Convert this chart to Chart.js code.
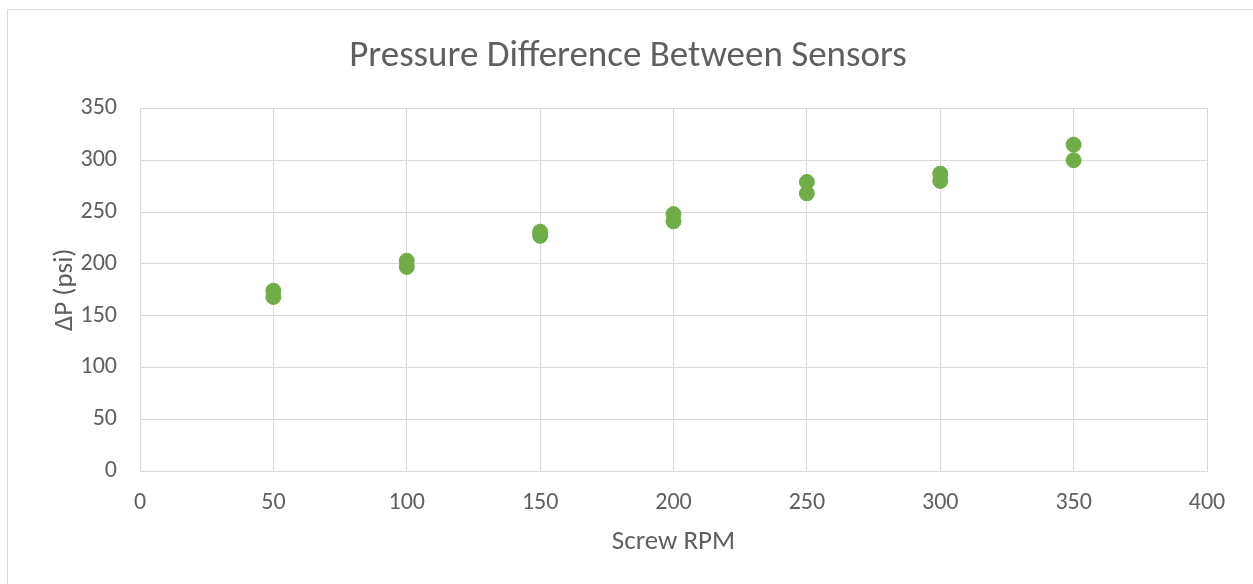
<!DOCTYPE html>
<html>
<head>
<meta charset="utf-8">
<script src="https://cdn.jsdelivr.net/npm/chart.js@4.4.0/dist/chart.umd.min.js"></script>
<style>
  html, body { margin: 0; padding: 0; background: #fff; }
  #wrap { position: relative; width: 1253px; height: 584px; }
  #frame { position: absolute; left: 7px; top: 9px; width: 1260px; height: 590px; border: 1px solid #d9d9d9; box-sizing: border-box; }
  canvas { position: absolute; left: 0; top: 0; }
</style>
</head>
<body>
<div id="wrap">
  <div id="frame"></div>
  <canvas id="chartCanvas" width="1253" height="584"></canvas>
</div>
<script>
//data
const rpm = [50, 50, 100, 100, 150, 150, 200, 200, 250, 250, 300, 300, 350, 350];
const deltaP = [174, 168, 203, 197, 231, 227, 248, 241, 279, 268, 287, 280, 315, 300];

const chartTitle = "Pressure Difference Between Sensors";
const xTitle = "Screw RPM";
const yTitle = "\u0394P (psi)";

const points = rpm.map((x, i) => ({ x: x, y: deltaP[i] }));

const textGray = "#5f5f5f";
const gridGray = "#d9d9d9";
const fontFamily = "Carlito, Calibri, 'Open Sans', sans-serif";

new Chart(document.getElementById("chartCanvas"), {
  type: "scatter",
  data: {
    datasets: [
      {
        label: "\u0394P",
        data: points,
        backgroundColor: "#70ad47",
        borderColor: "#70ad47",
        pointRadius: 7.5,
        pointHoverRadius: 7.5,
      },
    ],
  },
  options: {
    responsive: false,
    animation: false,
    layout: { padding: { left: 49, right: 46, top: 0, bottom: 26 } },
    plugins: {
      legend: { display: false },
      tooltip: { enabled: false },
      title: {
        display: true,
        text: chartTitle,
        color: textGray,
        font: { family: fontFamily, size: 37, weight: "normal" },
        padding: { top: 35, bottom: 29 },
      },
    },
    scales: {
      x: {
        type: "linear",
        min: 0,
        max: 400,
        ticks: { stepSize: 50, color: textGray, font: { family: fontFamily, size: 24 }, padding: 18 },
        grid: { color: gridGray, drawTicks: false },
        border: { color: gridGray },
        title: {
          display: true,
          text: xTitle,
          color: textGray,
          font: { family: fontFamily, size: 27 },
          padding: { top: 0, bottom: 0 },
        },
        afterFit: (s) => { s.height = 87; },
      },
      y: {
        min: 0,
        max: 350,
        ticks: { stepSize: 50, color: textGray, font: { family: fontFamily, size: 24 }, padding: 23 },
        grid: { color: gridGray, drawTicks: false },
        border: { color: gridGray },
        title: {
          display: true,
          text: yTitle,
          color: textGray,
          font: { family: fontFamily, size: 27 },
          padding: { top: 0, bottom: 0 },
        },
        afterFit: (s) => { s.width = 91; },
      },
    },
  },
});
</script>
</body>
</html>
